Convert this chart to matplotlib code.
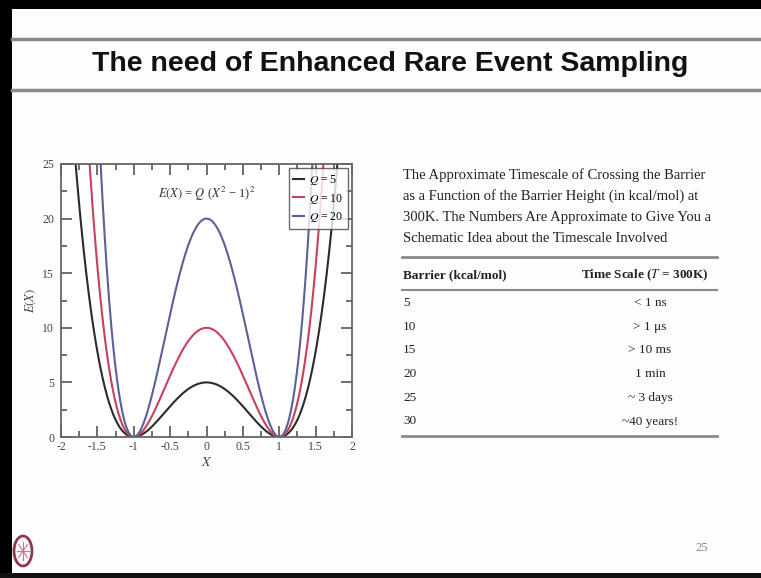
import numpy as np
import matplotlib
matplotlib.use("Agg")
import matplotlib.pyplot as plt
from matplotlib.lines import Line2D
from matplotlib.patches import Rectangle, Ellipse

plt.rcParams["mathtext.fontset"] = "stix"

W, H = 761, 578

# --- data ---
q_values = [5, 10, 20]
q_labels = ["$Q$ = 5", "$Q$ = 10", "$Q$ = 20"]
q_colors = ["#2b2b2b", "#c8405a", "#5c6098"]
x_ticks = [-2, -1.5, -1, -0.5, 0, 0.5, 1, 1.5, 2]
x_tick_labels = ["-2", "-1.5", "-1", "-0.5", "0", "0.5", "1", "1.5", "2"]
y_ticks = [0, 5, 10, 15, 20, 25]

caption = [
    "The Approximate Timescale of Crossing the Barrier",
    "as a Function of the Barrier Height (in kcal/mol) at",
    "300K. The Numbers Are Approximate to Give You a",
    "Schematic Idea about the Timescale Involved",
]
barrier_kcal = ["5", "10", "15", "20", "25", "30"]
time_scale = ["< 1 ns", "> 1 \u03bcs", "> 10 ms", "1 min", "~ 3 days", "~40 years!"]


def fx(px):
    return px / W


def fy(py):
    return 1 - py / H


def hline(fig, x0, x1, y, lw, color):
    fig.add_artist(Line2D([fx(x0), fx(x1)], [fy(y), fy(y)], lw=lw, color=color))


fig = plt.figure(figsize=(W / 100, H / 100), dpi=100)
fig.patch.set_facecolor("#fdfdfd")

# slide frame
fig.add_artist(Rectangle((0, fy(9)), 1, 9 / H, color="black", lw=0))
fig.add_artist(Rectangle((0, 0), fx(12), 1, color="black", lw=0))
fig.add_artist(Rectangle((0, 0), 1, 5 / H, color="#111111", lw=0))
hline(fig, 12, W, 39, 2.5, "#8a8a8a")
hline(fig, 12, W, 90, 2.5, "#8a8a8a")

fig.text(fx(390), fy(64), "The need of Enhanced Rare Event Sampling",
         family="Liberation Sans", weight="bold", fontsize=20.5,
         ha="center", va="center", color="#111111")

# --- double-well plot ---
ax = fig.add_axes([fx(61), fy(437), fx(352) - fx(61), (437 - 164) / H])
# curves follow the formula printed on the chart: E(X) = Q (X^2 - 1)^2
x = np.linspace(-2, 2, 801)
for q, lab, col in zip(q_values, q_labels, q_colors):
    ax.plot(x, q * (x ** 2 - 1) ** 2, color=col, lw=1.5, label=lab)

ax.set_xlim(-2, 2)
ax.set_ylim(0, 25)
ax.set_xticks(x_ticks)
ax.set_xticklabels(x_tick_labels)
ax.set_yticks(y_ticks)
ax.set_xticks(np.arange(-2, 2.01, 0.25), minor=True)
ax.set_yticks(np.arange(0, 25.1, 2.5), minor=True)
ax.tick_params(which="both", direction="in", top=True, right=True,
               color="#555555", width=1.2)
ax.tick_params(which="major", length=8, labelsize=8.5, labelcolor="#444444")
ax.tick_params(axis="x", which="major", pad=3)
ax.tick_params(axis="y", which="major", pad=5)
ax.tick_params(which="minor", length=4)
for lab in ax.get_xticklabels() + ax.get_yticklabels():
    lab.set_family("Liberation Serif")
for s in ax.spines.values():
    s.set_color("#666666")
    s.set_linewidth(1.3)

ax.set_xlabel("$X$", fontsize=10, labelpad=1, color="#444444")
ax.set_ylabel("$E(X)$", fontsize=9, labelpad=3, color="#444444")
ax.text(0.0, 22.3, "$E(X)$ = $Q$ ($X^2$ \u2212 1)$^2$", fontsize=9,
        ha="center", va="center", color="#333333", family="Liberation Serif")
leg = ax.legend(loc="upper right", frameon=True, fancybox=False,
                handlelength=0.9, handletextpad=0.4, borderpad=0.4,
                labelspacing=0.4, borderaxespad=0.35,
                prop={"family": "Liberation Serif", "size": 8.5})
leg.get_frame().set_edgecolor("#444444")
leg.get_frame().set_linewidth(1.0)

# --- caption + table ---
for i, line in enumerate(caption):
    fig.text(fx(403), fy(175 + 21 * i), line, family="Liberation Serif",
             fontsize=10.5, ha="left", va="center", color="#222222")

hline(fig, 402, 717, 257, 2.0, "#8a8a8a")
hline(fig, 402, 717, 290, 1.5, "#8a8a8a")
hline(fig, 402, 717, 436, 2.0, "#8a8a8a")

fig.text(fx(403), fy(275), "Barrier (kcal/mol)", family="Liberation Serif",
         fontsize=9.5, weight="bold", ha="left", va="center", color="#222222")
fig.text(fx(645), fy(275), "Time Scale ($T$ = 300K)", family="Liberation Serif",
         fontsize=9.5, weight="bold", ha="center", va="center", color="#222222")

for i, (b, t) in enumerate(zip(barrier_kcal, time_scale)):
    yy = 303 + 23.7 * i
    fig.text(fx(403), fy(yy), b, family="Liberation Serif", fontsize=9.5,
             ha="left", va="center", color="#222222")
    fig.text(fx(650), fy(yy), t, family="Liberation Serif", fontsize=9.5,
             ha="center", va="center", color="#222222")

# logo and page number
fig.add_artist(Ellipse((fx(23), fy(551)), 18 / W, 30 / H, fill=False,
                       edgecolor="#8a3a4a", lw=2))
for a in np.arange(0, np.pi, np.pi / 4):
    fig.add_artist(Line2D([fx(23 - 6 * np.cos(a)), fx(23 + 6 * np.cos(a))],
                          [fy(551 - 9 * np.sin(a)), fy(551 + 9 * np.sin(a))],
                          lw=0.8, color="#d07090"))
fig.text(fx(702), fy(548), "25", family="Liberation Serif", fontsize=9,
         ha="center", va="center", color="#888888")

fig.savefig("out.png", dpi=100, facecolor=fig.get_facecolor())
